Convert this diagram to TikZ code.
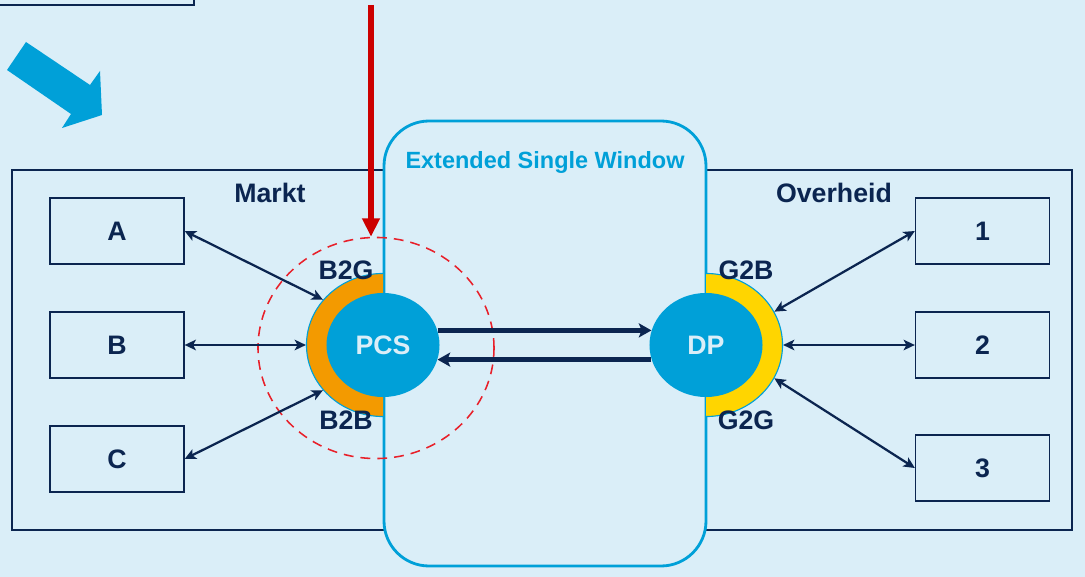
\documentclass[tikz,border=0pt]{standalone}
\usepackage{fontspec}
\setmainfont{Liberation Sans}
\usetikzlibrary{shapes.geometric,arrows.meta}
\definecolor{bgblue}{HTML}{DAEEF8}
\definecolor{hubblue}{HTML}{00A0D8}
\definecolor{navy}{HTML}{0B2550}
\definecolor{pcsorange}{HTML}{F39A00}
\definecolor{dpyellow}{HTML}{FFD500}
\definecolor{alertred}{HTML}{CC0000}
\definecolor{dashred}{HTML}{E8202A}
\tikzset{
  bigfont/.style={font=\fontsize{19}{22}\selectfont\bfseries},
  party/.style={bigfont, draw=navy, fill=bgblue, text=navy, line width=0.9pt,
    minimum width=3.35cm, minimum height=1.65cm, inner sep=0pt},
  hub/.style={bigfont, ellipse, fill=hubblue, text=bgblue,
    minimum width=2.825cm, minimum height=2.6cm, inner sep=0pt},
  ring/.style={ellipse, draw=hubblue, line width=0.8pt,
    minimum width=3.825cm, minimum height=3.575cm, inner sep=0pt},
  lbl/.style={bigfont, text=navy},
  link/.style={{Stealth[length=8pt,width=7.5pt,inset=2pt]}-{Stealth[length=8pt,width=7.5pt,inset=2pt]}, navy, line width=1.6pt},
  pipe/.style={-{Stealth[length=9pt,width=10pt,inset=2pt]}, navy, line width=3.2pt},
}
\begin{document}
\begin{tikzpicture}[x=0.025cm, y=-0.025cm]
    \useasboundingbox (0,0) rectangle (1085,577);
    \fill[bgblue] (0,0) rectangle (1085,577);
    % box at top left, cut by the page
    \draw[navy, line width=0.9pt] (-5,5)--(194,5)--(194,-5);
    \fill[hubblue] (7,70)--(26,42)--(90,85)--(100,71)--(102,115)--(62,128)--(71,114)--cycle;
    % Markt / Overheid frame and the window
    \draw[navy, line width=0.8pt] (12,170) rectangle (1072,530);
    \draw[hubblue, fill=bgblue, line width=2pt, rounded corners=1.125cm] (384,121) rectangle (706,566);
    \node[font=\fontsize{16.7}{20}\selectfont\bfseries, text=hubblue] (esw) at (545,162) {Extended Single Window};
    \node[lbl] (markt) at (270,193) {Markt};
    \node[lbl] (overheid) at (834,193) {Overheid};
    % parties
    \node[party] (A) at (117,231) {A};
    \node[party] (B) at (117,345) {B};
    \node[party] (C) at (117,459) {C};
    \node[party] (g1) at (982.5,231) {1};
    \node[party] (g2) at (982.5,345) {2};
    \node[party] (g3) at (982.5,468) {3};
    % PCS with its half ring
    \begin{scope}
      \clip (300,260) rectangle (383,430);
      \node[ring, fill=pcsorange] (pcsring) at (383,345) {};
    \end{scope}
    \node[hub] (pcs) at (383,345) {PCS};
    % DP with its half ring
    \begin{scope}
      \clip (706,260) rectangle (790,430);
      \node[ring, fill=dpyellow] (dpring) at (706,345) {};
    \end{scope}
    \node[hub] (dp) at (706,345) {DP};
    \node[lbl] (b2g) at (346,270) {B2G};
    \node[lbl] (b2b) at (346,420) {B2B};
    \node[lbl] (g2b) at (746,270) {G2B};
    \node[lbl] (g2g) at (746,420) {G2G};
    \node[ellipse, draw=dashred, dash pattern=on 7pt off 5pt, line width=1.1pt, minimum width=5.9cm, minimum height=5.525cm] (focus) at (376,348) {};
    \coordinate (redtop) at (371,5);
    \draw[-{Triangle[length=13pt,width=12pt]}, alertred, line width=4.2pt] (redtop)--(focus.north -| redtop);
    % connectors
    \draw[link] (A.east)--(pcsring.143);
    \draw[link] (B.east)--(pcsring.180);
    \draw[link] (C.east)--(pcsring.217);
    \draw[link] (g1.west)--(dpring.26);
    \draw[link] (g2.west)--(dpring.0);
    \draw[link] (g3.west)--(dpring.-26);
    \draw[pipe] (pcs.15)--(dp.165);
    \draw[pipe] (dp.195)--(pcs.345);
\end{tikzpicture}
\end{document}
